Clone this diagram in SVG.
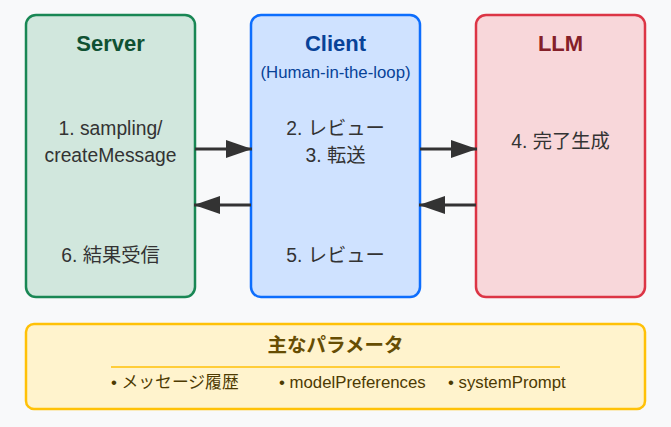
<svg xmlns="http://www.w3.org/2000/svg" width="671" height="427" viewBox="0 0 671 427">
<defs>
<marker id="ah" markerWidth="26" markerHeight="18" refX="26" refY="9" orient="auto" markerUnits="userSpaceOnUse">
<path d="M0,0 L26,9 L0,18 Z" fill="#333"/>
</marker>
<style>
text{font-family:"Liberation Sans","Noto Sans CJK JP",sans-serif;}
.box{stroke-width:2.5;}
.title{font-size:22px;font-weight:bold;text-anchor:middle;}
.body{font-size:19.3px;fill:#333;text-anchor:middle;}
.conn{stroke:#333;stroke-width:3;fill:none;}
.item{font-size:16.8px;fill:#4d3a02;}
</style>
</defs>
<rect width="671" height="427" fill="#f8f9fa"/>
<g id="server">
<rect class="box" x="26" y="15" width="169" height="282" rx="10" fill="#d1e7dd" stroke="#198754"/>
<text class="title" x="110.5" y="51" fill="#0f5132">Server</text>
<text class="body" x="110.5" y="135">1. sampling/</text>
<text class="body" x="110.5" y="162">createMessage</text>
<text class="body" x="110.5" y="262">6. 結果受信</text>
</g>
<g id="client">
<rect class="box" x="251" y="15" width="169" height="282" rx="10" fill="#cfe2ff" stroke="#0d6efd"/>
<text class="title" x="335.5" y="51" fill="#084298">Client</text>
<text x="335.5" y="78" font-size="16.8" fill="#084298" text-anchor="middle">(Human-in-the-loop)</text>
<text class="body" x="335.5" y="135">2. レビュー</text>
<text class="body" x="335.5" y="162">3. 転送</text>
<text class="body" x="335.5" y="262">5. レビュー</text>
</g>
<g id="llm">
<rect class="box" x="476" y="15" width="169" height="282" rx="10" fill="#f8d7da" stroke="#dc3545"/>
<text class="title" x="560.5" y="51" fill="#842029">LLM</text>
<text class="body" x="560.5" y="148">4. 完了生成</text>
</g>
<g id="connectors">
<line class="conn" x1="195" y1="149" x2="252" y2="149" marker-end="url(#ah)"/>
<line class="conn" x1="251" y1="205" x2="194" y2="205" marker-end="url(#ah)"/>
<line class="conn" x1="420" y1="149" x2="477" y2="149" marker-end="url(#ah)"/>
<line class="conn" x1="476" y1="205" x2="419" y2="205" marker-end="url(#ah)"/>
</g>
<g id="params">
<rect class="box" x="26" y="324" width="619" height="85" rx="8" fill="#fff3cd" stroke="#ffc107"/>
<text x="335.5" y="352" font-size="19.5" font-weight="bold" fill="#664d03" text-anchor="middle">主なパラメータ</text>
<line x1="111" y1="367" x2="560" y2="367" stroke="#ffc107" stroke-width="1.5"/>
<text class="item" x="111" y="388">• メッセージ履歴</text>
<text class="item" x="279" y="388">• modelPreferences</text>
<text class="item" x="448" y="388">• systemPrompt</text>
</g>
</svg>
